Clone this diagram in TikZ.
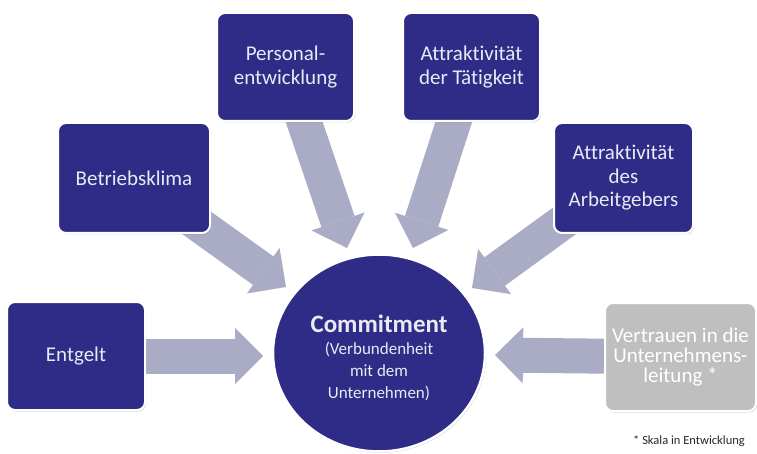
\documentclass[tikz,border=0pt]{standalone}
\usepackage{fontspec}
\setmainfont{Carlito}[Ligatures={NoCommon}]
\usetikzlibrary{shapes.geometric,arrows.meta,shadows}
\definecolor{boxblue}{RGB}{46,44,135}
\definecolor{arrowgray}{RGB}{170,171,196}
\definecolor{softgray}{RGB}{191,191,191}
\definecolor{boxtext}{RGB}{234,234,244}
\pgfdeclarelayer{background}
\pgfsetlayers{background,main}
\tikzset{
  factorbox/.style={draw=white, line width=2pt, fill=boxblue, rounded corners=8pt,
    inner sep=0pt, align=center, text=boxtext,
    font=\fontsize{21}{23.5}\selectfont,
    drop shadow={shadow xshift=1.2pt, shadow yshift=-1.5pt, opacity=0.3}},
  greybox/.style={factorbox, fill=softgray, text=white, font=\fontsize{21}{20}\selectfont},
  centerdisc/.style={ellipse, draw=white, line width=2.5pt, fill=boxblue, inner sep=0pt,
    drop shadow={shadow xshift=1.2pt, shadow yshift=-1.5pt, opacity=0.3}},
  flowarrow/.style={draw=arrowgray, line width=35pt,
    -{Triangle[width=56pt,length=28pt,line width=0pt]}},
}
\begin{document}
\begin{tikzpicture}[x=1pt,y=-1pt]
\useasboundingbox (0,0) rectangle (757,454);
% factor boxes
\node[factorbox, minimum width=138pt, minimum height=108pt] (ent) at (76,356) {Entgelt};
\node[factorbox, minimum width=152pt, minimum height=110pt] (betr) at (134,178) {Betriebsklima};
\node[factorbox, minimum width=137pt, minimum height=108pt] (pers) at (285.5,67) {Personal-\\entwicklung};
\node[factorbox, minimum width=137pt, minimum height=108pt] (taet) at (471.5,67) {Attraktivität\\der Tätigkeit};
\node[factorbox, minimum width=139pt, minimum height=110pt] (arbg) at (623.5,178) {Attraktivität\\des\\Arbeitgebers};
\node[greybox, minimum width=151pt, minimum height=108pt] (vert) at (680.5,357) {Vertrauen in die\\Unternehmens-\\leitung *};
% central disc
\node[centerdisc, minimum width=212pt, minimum height=197pt] (commit) at (379,353) {};
\node[align=center, text=boxtext, font=\fontsize{17}{22}\selectfont] (committxt) at (379,358)
  {{\fontsize{25}{25}\selectfont\bfseries Commitment}\\(Verbundenheit\\mit dem\\Unternehmen)};
% arrow tips
\coordinate (tEnt) at (263,356);
\coordinate (tBetr) at (286,287);
\coordinate (tPers) at (347,248);
\coordinate (tTaet) at (413,248);
\coordinate (tArbg) at (472,288);
\coordinate (tVert) at (495,355);
\begin{pgfonlayer}{background}
\draw[flowarrow] (ent.center) -- (tEnt);
\draw[flowarrow] (betr.center) -- (tBetr);
\draw[flowarrow] (pers.center) -- (tPers);
\draw[flowarrow] (taet.center) -- (tTaet);
\draw[flowarrow] (arbg.center) -- (tArbg);
\draw[flowarrow] (vert.center) -- (tVert);
\end{pgfonlayer}
% footnote
\node[anchor=west, inner sep=0pt, font=\fontsize{12.5}{14}\selectfont, text=black!85] (note) at (633,441) {* Skala in Entwicklung};
\end{tikzpicture}
\end{document}
